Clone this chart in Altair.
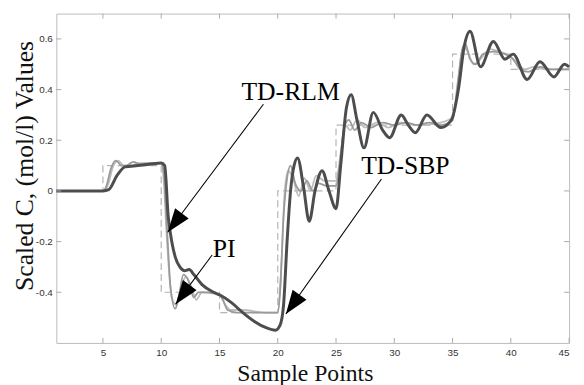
import math
import altair as alt
import pandas as pd

# ---------------- data ----------------
rlm_x = [1, 5, 5.5, 6.2, 6.9, 8, 9, 10, 10.3, 10.6, 10.8, 11.2, 11.6, 12, 12.4, 12.8, 13.5, 14.5, 15,
         16, 17, 18, 19, 19.8, 20.2, 20.5, 20.8, 21.1, 21.4, 21.7, 22.2, 22.7, 23.2, 23.8, 24.4, 25,
         25.4, 25.9, 26.3, 26.8, 27.4, 28.2, 29, 29.6, 30.6, 31.2, 31.8, 32.8, 34, 34.9, 35.5, 36.0,
         36.5, 37.4, 38.5, 39.5, 40.2, 41.4, 42.5, 43.7, 44.6, 45]
rlm_y = [0, 0, 0.005, 0.06, 0.095, 0.1, 0.105, 0.11, 0.1, -0.1, -0.17, -0.26, -0.3, -0.315, -0.31,
         -0.33, -0.37, -0.4, -0.41, -0.44, -0.48, -0.515, -0.54, -0.55, -0.53, -0.45, -0.2, 0.0, 0.1,
         0.13, 0.02, -0.12, 0.0, 0.08, 0.0, -0.07, 0.1, 0.33, 0.38, 0.28, 0.17, 0.31, 0.24, 0.21, 0.30,
         0.26, 0.23, 0.30, 0.25, 0.28, 0.4, 0.57, 0.63, 0.49, 0.59, 0.52, 0.54, 0.44, 0.51, 0.45,
         0.50, 0.49]

pi_x = [1, 5, 5.3, 5.7, 6.1, 6.6, 7, 7.6, 8.2, 9, 10, 10.2, 10.5, 10.8, 11.2, 11.5, 11.9, 12.3, 12.8,
        13.2, 14, 15, 15.3, 15.7, 16.5, 19, 20, 20.2, 20.5, 20.8, 21.1, 21.5, 22, 22.5, 23, 23.5,
        24.2, 25, 25.3, 25.7, 26.1, 26.6, 27.2, 28, 29, 30, 31, 32, 33, 34, 35, 35.4, 35.8, 36.1,
        36.5, 37, 37.6, 38.5, 39.5, 40.2, 40.8, 41.5, 42.5, 43.5, 45]
pi_y = [0, 0, 0.02, 0.09, 0.12, 0.1, 0.1, 0.115, 0.105, 0.11, 0.11, 0.08, -0.15, -0.38, -0.465,
        -0.42, -0.33, -0.35, -0.42, -0.4, -0.4, -0.41, -0.43, -0.47, -0.48, -0.48, -0.48, -0.4,
        -0.1, 0.05, 0.1, 0.03, 0.0, 0.04, 0.0, 0.03, 0.02, 0.02, 0.1, 0.25, 0.28, 0.24, 0.27, 0.25,
        0.27, 0.26, 0.27, 0.26, 0.27, 0.26, 0.28, 0.4, 0.55, 0.58, 0.52, 0.5, 0.54, 0.55, 0.54, 0.52,
        0.48, 0.47, 0.49, 0.48, 0.48]

sbp_x = [1, 5, 5.4, 5.9, 6.3, 6.8, 7.5, 8, 9, 10, 10.2, 10.5, 10.9, 11.3, 11.7, 12.1, 12.6, 13,
         13.5, 14.5, 15, 15.5, 16, 17, 19, 20, 20.3, 20.6, 20.9, 21.3, 21.8, 22.3, 22.8, 23.3, 24,
         25, 25.4, 25.8, 26.2, 26.8, 27.5, 28.5, 29.5, 30.5, 32, 34, 35, 35.5, 35.9, 36.3, 36.8,
         37.4, 38.2, 39, 40, 40.6, 41.2, 42, 43, 45]
sbp_y = [0, 0, 0.02, 0.1, 0.12, 0.1, 0.1, 0.11, 0.11, 0.11, 0.05, -0.2, -0.42, -0.45, -0.38, -0.34,
         -0.38, -0.43, -0.4, -0.405, -0.41, -0.45, -0.47, -0.47, -0.48, -0.48, -0.3, 0.0, 0.08, 0.05,
         -0.02, 0.05, 0.0, 0.06, 0.04, 0.04, 0.15, 0.26, 0.24, 0.28, 0.25, 0.27, 0.25, 0.27, 0.26,
         0.27, 0.29, 0.45, 0.57, 0.55, 0.5, 0.52, 0.56, 0.55, 0.53, 0.5, 0.48, 0.49, 0.48, 0.48]

sp_x = [1, 5, 5, 10, 10, 15, 15, 20, 20, 25, 25, 35, 35, 40, 40, 45]
sp_y = [0, 0, 0.1, 0.1, -0.4, -0.4, -0.48, -0.48, 0, 0, 0.26, 0.26, 0.54, 0.54, 0.48, 0.48]

x_ticks = [5, 10, 15, 20, 25, 30, 35, 40, 45]
y_ticks = [-0.4, -0.2, 0, 0.2, 0.4, 0.6]

ann_text = ["TD-RLM", "PI", "TD-SBP"]
ann_tx = [21.1, 15.4, 30.95]
ann_ty = [0.358, -0.261, 0.066]
arr_x0 = [18.77, 14.37, 28.9]
arr_y0 = [0.342, -0.253, 0.047]
arr_x1 = [10.56, 11.24, 20.7]
arr_y1 = [-0.163, -0.447, -0.486]

# ---------------- layout ----------------
W, H = 520, 334
XD = [1, 45]
YD = [-0.6, 0.7]

xs = alt.Scale(domain=XD, nice=False, zero=False)
ys = alt.Scale(domain=YD, nice=False, zero=False)

xaxis = alt.Axis(values=x_ticks, title="Sample Points", ticks=False, domain=False, grid=False,
                 labelFont="Liberation Sans", labelFontSize=10, labelColor="#333",
                 labelPadding=5, titleFont="Liberation Serif", titleFontSize=24,
                 titleFontWeight="normal", titleColor="#111", titleX=252, titleY=38,
                 titleBaseline="alphabetic", titleAlign="center")
yaxis = alt.Axis(values=y_ticks, title="Scaled C, (mol/l) Values", ticks=False, domain=False,
                 grid=False, labelFont="Liberation Sans", labelFontSize=10, labelColor="#333",
                 labelPadding=4,
                 labelExpr="datum.value == 0 ? '0' : replace(format(datum.value, '.1f'), '\u2212', '-')",
                 titleFont="Liberation Serif", titleFontSize=26, titleFontWeight="normal",
                 titleColor="#111", titleX=-24, titleY=154, titleBaseline="alphabetic",
                 titleAlign="center", titleAngle=270)


def X(f):
    return alt.X(f, type="quantitative", scale=xs, axis=xaxis)


def Y(f):
    return alt.Y(f, type="quantitative", scale=ys, axis=yaxis)


def series(xv, yv):
    return pd.DataFrame({"x": xv, "y": yv, "i": list(range(len(xv)))})


sp_df = series(sp_x, sp_y)
sbp_df = series(sbp_x, sbp_y)
pi_df = series(pi_x, pi_y)
rlm_df = series(rlm_x, rlm_y)

setpoint = alt.Chart(sp_df).mark_line(color="#b5b5b5", strokeWidth=1.2, strokeDash=[7, 4]).encode(
    x=X("x"), y=Y("y"), order="i:Q")
l_sbp = alt.Chart(sbp_df).mark_line(color="#bdbdbd", strokeWidth=1.8, interpolate="monotone").encode(
    x=X("x"), y=Y("y"), order="i:Q")
l_pi = alt.Chart(pi_df).mark_line(color="#9a9a9a", strokeWidth=1.8, interpolate="monotone").encode(
    x=X("x"), y=Y("y"), order="i:Q")
l_rlm = alt.Chart(rlm_df).mark_line(color="#4d4d4d", strokeWidth=3, interpolate="monotone").encode(
    x=X("x"), y=Y("y"), order="i:Q")

# inward ticks on all four sides (MATLAB box)
xt_df = pd.DataFrame({"v": x_ticks})
yt_df = pd.DataFrame({"v": y_ticks})
tick_col = "#aaaaaa"
t_bottom = alt.Chart(xt_df).mark_rule(color=tick_col).encode(x=X("v"), y=alt.value(H), y2=alt.value(H - 5))
t_top = alt.Chart(xt_df).mark_rule(color=tick_col).encode(x=X("v"), y=alt.value(0), y2=alt.value(5))
t_left = alt.Chart(yt_df).mark_rule(color=tick_col).encode(y=Y("v"), x=alt.value(0), x2=alt.value(5))
t_right = alt.Chart(yt_df).mark_rule(color=tick_col).encode(y=Y("v"), x=alt.value(W), x2=alt.value(W - 5))

# annotations
sx = W / (XD[1] - XD[0])
sy = H / (YD[1] - YD[0])
angles = []
for a, b, c, d in zip(arr_x0, arr_y0, arr_x1, arr_y1):
    dx = (c - a) * sx
    dy = -(d - b) * sy
    angles.append(math.degrees(math.atan2(dx, -dy)) % 360)

ann_df = pd.DataFrame({"t": ann_text, "tx": ann_tx, "ty": ann_ty, "x0": arr_x0, "y0": arr_y0,
                       "x1": arr_x1, "y1": arr_y1, "ang": angles})

arrows = alt.Chart(ann_df).mark_rule(color="black", strokeWidth=1.1).encode(
    x=X("x0"), y=Y("y0"), x2="x1:Q", y2="y1:Q")
heads = alt.Chart(ann_df).mark_point(shape="M0,0 L0.36,1 L-0.36,1 Z", filled=True, color="black",
                                      opacity=1, size=2300).encode(
    x=X("x1"), y=Y("y1"), angle=alt.Angle("ang:Q", scale=None))
labels = alt.Chart(ann_df).mark_text(font="Liberation Serif", fontSize=26, color="black",
                                      baseline="alphabetic", align="center").encode(
    x=X("tx"), y=Y("ty"), text="t:N")

chart = alt.layer(setpoint, l_sbp, l_pi, l_rlm, t_bottom, t_top, t_left, t_right,
                  arrows, heads, labels).properties(
    width=W, height=H,
    autosize=alt.AutoSizeParams(type="none"),
    padding={"left": 49, "top": 3, "right": 7, "bottom": 40},
    background="white",
).configure_view(stroke="#bbbbbb", strokeWidth=1)

chart.save("out.html", embed_options={"renderer": "svg", "actions": False})
